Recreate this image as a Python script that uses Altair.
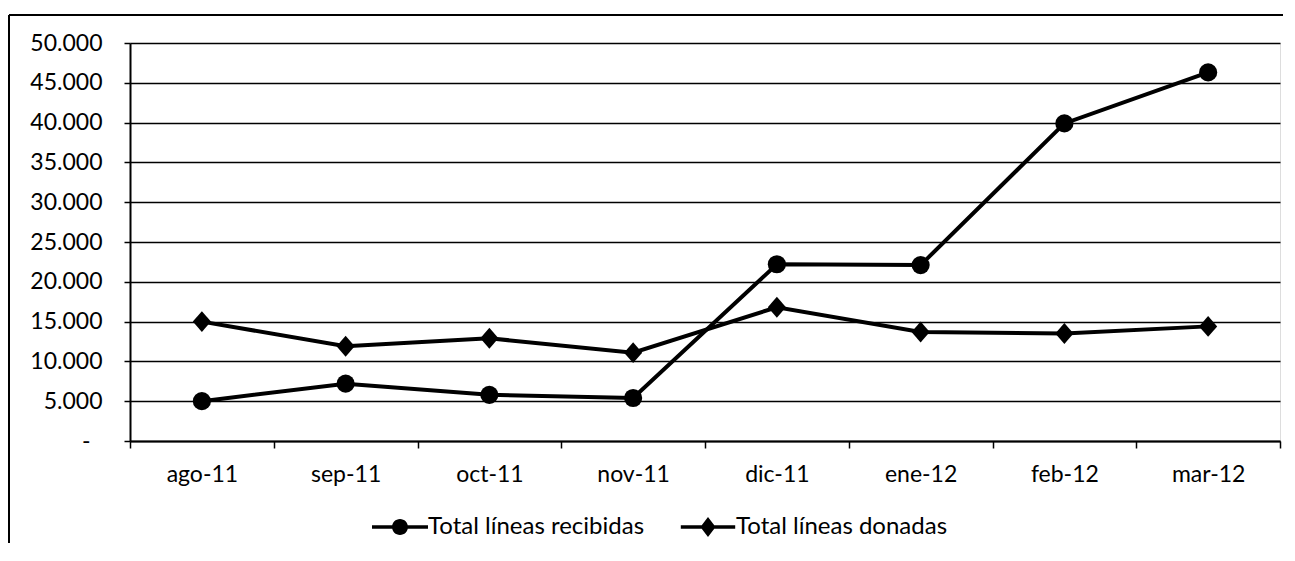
import altair as alt
import pandas as pd

months = ["ago-11", "sep-11", "oct-11", "nov-11", "dic-11", "ene-12", "feb-12", "mar-12"]
recibidas = [5000, 7200, 5800, 5400, 22200, 22100, 39900, 46300]
donadas = [15000, 11900, 12900, 11100, 16800, 13700, 13500, 14400]
series_names = ["Total líneas recibidas", "Total líneas donadas"]
y_ticks = list(range(0, 50001, 5000))

rows = []
for m, v in zip(months, recibidas):
    rows.append({"mes": m, "valor": v, "serie": series_names[0]})
for m, v in zip(months, donadas):
    rows.append({"mes": m, "valor": v, "serie": series_names[1]})
df = pd.DataFrame(rows)

FONT = "Lato"

x_enc = alt.X(
    "mes:N",
    sort=months,
    scale=alt.Scale(type="band", paddingInner=0, paddingOuter=0),
    axis=alt.Axis(
        title=None, tickBand="extent", grid=False, domainColor="black", domainWidth=2,
        tickColor="black", tickSize=7, tickWidth=1.5, labelFont=FONT, labelFontSize=23,
        labelColor="black", labelPadding=15, labelAngle=0,
    ),
)
y_enc = alt.Y(
    "valor:Q",
    scale=alt.Scale(domain=[0, 50000], nice=False),
    axis=alt.Axis(
        title=None, values=y_ticks, grid=True, gridColor="black", gridWidth=1.5, gridOpacity=1,
        domainColor="black", domainWidth=2, tickColor="black", tickSize=6, tickWidth=1.5,
        labelFont=FONT, labelFontSize=23, labelColor="black",
        labelPadding={"condition": {"test": "datum.value == 0", "value": 34}, "value": 22},
        labelExpr="datum.value == 0 ? '-' : floor(datum.value / 1000) + '.000'",
    ),
)

base = alt.Chart(df)

lines = base.mark_line(color="black", strokeWidth=4).encode(
    x=x_enc, y=y_enc, detail="serie:N"
)

points = base.mark_point(filled=True, color="black", opacity=1, size=330).encode(
    x=x_enc, y=y_enc,
    shape=alt.Shape(
        "serie:N",
        scale=alt.Scale(domain=series_names,
                        range=["circle", "M0,-1.15L1,0L0,1.15L-1,0Z"]),
        legend=None,
    ),
)

circle_leg = "M-3.5,-0.22H3.5V0.22H-3.5Z M-1,0A1,1 0 1,1 1,0A1,1 0 1,1 -1,0Z"
diamond_leg = "M-3.4,-0.22H3.4V0.22H-3.4Z M0,-1.25L0.95,0L0,1.25L-0.95,0Z"

legend_layer = base.mark_point(filled=True, color="black", size=256).encode(
    x=x_enc, y=y_enc,
    opacity=alt.value(0),
    shape=alt.Shape(
        "serie:N",
        scale=alt.Scale(domain=series_names, range=[circle_leg, diamond_leg]),
        legend=alt.Legend(
            title=None, orient="none", legendX=258, legendY=472, direction="horizontal",
            labelFont=FONT, labelFontSize=24, labelColor="black", labelOffset=16,
            labelLimit=0, columnPadding=34, padding=0, symbolSize=256, symbolOpacity=1,
            symbolFillColor="black", symbolStrokeColor="black", symbolStrokeWidth=0.5,
        ),
    ),
)

frame_data = alt.Data(values=[{"k": 1}])
frame_top = alt.Chart(frame_data).mark_rule(color="black", strokeWidth=2).encode(
    x=alt.value(-121), x2=alt.value(1153), y=alt.value(-28)
)
frame_left = alt.Chart(frame_data).mark_rule(color="black", strokeWidth=2).encode(
    x=alt.value(-121), y=alt.value(-28), y2=alt.value(500)
)

chart = (
    alt.layer(lines, points, legend_layer, frame_top, frame_left)
    .resolve_scale(shape="independent")
    .properties(width=1150, height=398, padding={"left": 0, "top": 6, "right": 0, "bottom": 0})
    .configure_view(stroke=None)
    .configure(background="white")
)

chart.save("out.html", embed_options={"renderer": "svg", "actions": False})
